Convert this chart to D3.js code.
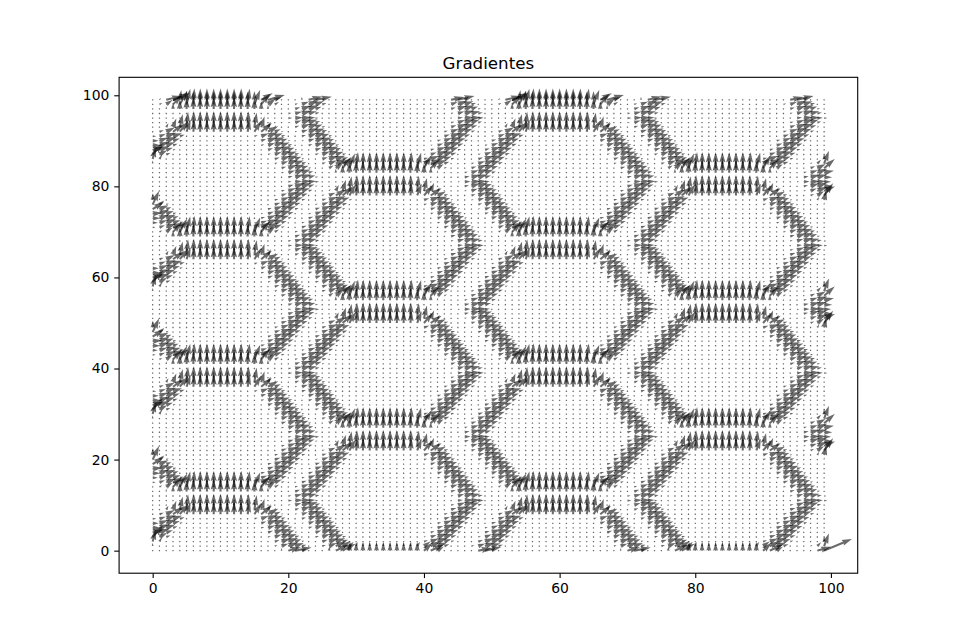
<!DOCTYPE html>
<html>
<head>
<meta charset="utf-8">
<script src="https://cdn.jsdelivr.net/npm/d3@7"></script>
<style>
  html, body { margin: 0; padding: 0; background: #fff; }
  svg { display: block; font-family: "DejaVu Sans", sans-serif; }
</style>
</head>
<body>
<svg id="chart" width="953" height="644"></svg>
<script>
// ---- data ----
const title = "Gradientes";
const xTicks = [0, 20, 40, 60, 80, 100];
const yTicks = [0, 20, 40, 60, 80, 100];
const gridSize = 100;                                  // sample points 0..99 on each axis
const hexColumnX = [9.7, 34.2, 59.7, 84.2, 109.7];     // hexagon column centres
const hexRowsEven = [-30.8, -2.8, 25.2, 53.2, 81.2, 109.2]; // centres (y) for columns 0,2,4
const hexRowsOdd = [-16.8, 11.2, 39.2, 67.2, 95.2, 123.2];  // centres (y) for columns 1,3
const hexHalfWidth = [12.5];                           // centre -> side vertex
const hexHalfTop = [6.5];                              // centre -> end of flat top edge
const hexHalfHeight = [11.5];                          // centre -> flat top edge
const edgeSoftness = [1.2];                            // horizontal smoothing of the image

// ---- layout ----
const W = 953, H = 644;
const margin = {left: 119.1, right: 953 - 857.7, top: 77.3, bottom: 644 - 573.2};
const pw = W - margin.left - margin.right;
const ph = H - margin.top - margin.bottom;
const svg = d3.select("#chart");
svg.append("rect").attr("width", W).attr("height", H).attr("fill", "#fff");

const pad = 0.05 * (gridSize - 1);
const x = d3.scaleLinear().domain([-pad, gridSize - 1 + pad]).range([margin.left, margin.left + pw]);
const y = d3.scaleLinear().domain([-pad, gridSize - 1 + pad]).range([margin.top + ph, margin.top]);

// ---- build the hexagon image (anti-aliased coverage) ----
const hexes = [];
hexColumnX.forEach((cx, k) => {
  (k % 2 === 0 ? hexRowsEven : hexRowsOdd).forEach(cy => hexes.push([cx, cy]));
});
const A = hexHalfWidth[0], B = hexHalfTop[0], Hh = hexHalfHeight[0];
function inside(px, py) {
  for (const [cx, cy] of hexes) {
    const dx = Math.abs(px - cx), dy = Math.abs(py - cy);
    if (dy <= Hh && dx <= A - (A - B) * (dy / Hh)) return true;
  }
  return false;
}
const S = 8;
const raw = [];
for (let j = 0; j < gridSize; j++) {
  const row = [];
  for (let i = 0; i < gridSize; i++) {
    let c = 0;
    for (let sj = 0; sj < S; sj++) for (let si = 0; si < S; si++) {
      if (inside(i - 0.5 + (si + 0.5) / S, j - 0.5 + (sj + 0.5) / S)) c++;
    }
    row.push(c / (S * S));
  }
  raw.push(row);
}
// horizontal smoothing
const sg = edgeSoftness[0], kr = 4;
const ker = d3.range(-kr, kr + 1).map(t => Math.exp(-t * t / (2 * sg * sg)));
const ks = d3.sum(ker);
const img = raw.map(row => row.map((_, i) => {
  let s = 0;
  for (let t = -kr; t <= kr; t++) {
    const ii = Math.min(gridSize - 1, Math.max(0, i + t));
    s += row[ii] * ker[t + kr];
  }
  return s / ks;
}));
// gradient like numpy.gradient (central inside, one-sided at the borders)
function d(arr, k, n) {
  if (k === 0) return arr(1) - arr(0);
  if (k === n - 1) return arr(n - 1) - arr(n - 2);
  return (arr(k + 1) - arr(k - 1)) / 2;
}
const last = gridSize - 1;
const vecs = [];
for (let j = 0; j < gridSize; j++) {
  for (let i = 0; i < gridSize; i++) {
    // along the frame the tangential derivative stays sharp
    const rowSrc = (j === 0 || j === last) ? raw : img;
    const colSrc = (i === 0 || i === last) ? raw : img;
    const gx = d(k => rowSrc[j][k], i, gridSize);
    const gy = d(k => colSrc[k][i], j, gridSize);
    vecs.push({i, j, u: Math.abs(gx), v: Math.abs(gy)});
  }
}

// ---- quiver ----
const pxPerUnit = 32;                     // arrow length in px per unit of gradient
const wpx = 2.0;                          // shaft width in px
const headwidth = 3, headlength = 5, headaxislength = 4.5, minlength = 1;
const sx = Math.abs(x(1) - x(0)), sy = Math.abs(y(1) - y(0));

function arrowPath(p) {
  const m = Math.hypot(p.u, p.v);
  const L = m * pxPerUnit / wpx;          // in units of shaft width
  let pts;
  if (L < minlength) {
    pts = d3.range(6).map(t => [Math.cos(t * Math.PI / 3) * 0.38, Math.sin(t * Math.PI / 3) * 0.38]);
  } else {
    const minsh = headlength;
    let X, Y;
    if (L < minsh) {
      const s = L / minsh;
      X = [0, minsh - headaxislength, minsh - headlength, minsh, minsh - headlength, minsh - headaxislength, 0].map(v => v * s);
      Y = [0.5, 0.5, headwidth / 2, 0, -headwidth / 2, -0.5, -0.5].map(v => v * s);
    } else {
      X = [0, L - headaxislength, L - headlength, L, L - headlength, L - headaxislength, 0];
      Y = [0.5, 0.5, headwidth / 2, 0, -headwidth / 2, -0.5, -0.5];
    }
    const ang = Math.atan2(p.v * sy, p.u * sx);
    const ca = Math.cos(ang), sa = Math.sin(ang);
    pts = X.map((xx, k) => [xx * ca - Y[k] * sa, xx * sa + Y[k] * ca]);
  }
  const x0 = x(p.i), y0 = y(p.j);
  return "M" + pts.map(([a, b]) => (x0 + a * wpx).toFixed(2) + "," + (y0 - b * wpx).toFixed(2)).join("L") + "Z";
}

const plot = svg.append("g");
plot.append("defs").append("clipPath").attr("id", "clip")
  .append("rect").attr("x", margin.left).attr("y", margin.top).attr("width", pw).attr("height", ph);
plot.append("g").attr("clip-path", "url(#clip)")
  .selectAll("path").data(vecs).join("path")
  .attr("d", arrowPath)
  .attr("fill", "#000")
  .attr("fill-opacity", 0.58)
  .attr("stroke", "#000")
  .attr("stroke-opacity", 0.12)
  .attr("stroke-width", 0.3);

// ---- axes ----
const tickLen = 4.86, fs = 13.9;
const xAxis = d3.axisBottom(x).tickValues(xTicks).tickSize(tickLen).tickPadding(4.86).tickFormat(d3.format("d"));
const yAxis = d3.axisLeft(y).tickValues(yTicks).tickSize(tickLen).tickPadding(4.86).tickFormat(d3.format("d"));
const gx = svg.append("g").attr("transform", `translate(0,${margin.top + ph})`).call(xAxis);
const gy = svg.append("g").attr("transform", `translate(${margin.left},0)`).call(yAxis);
[gx, gy].forEach(g => {
  g.select(".domain").remove();
  g.selectAll("line").attr("stroke", "#000").attr("stroke-width", 1.1);
  g.selectAll("text").attr("fill", "#000").style("font-size", fs + "px").style("font-family", "DejaVu Sans");
});
svg.append("rect").attr("x", margin.left).attr("y", margin.top).attr("width", pw).attr("height", ph)
  .attr("fill", "none").attr("stroke", "#000").attr("stroke-width", 1.1);

svg.append("text").attr("x", margin.left + pw / 2).attr("y", margin.top - 8.3)
  .attr("text-anchor", "middle").style("font-size", "16.7px").style("font-family", "DejaVu Sans")
  .text(title);
</script>
</body>
</html>
